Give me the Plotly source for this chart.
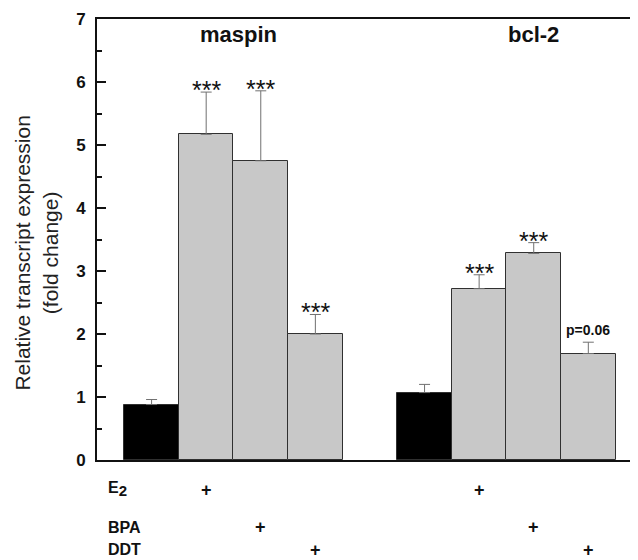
import plotly.graph_objects as go

# ---- data ----
genes = ["maspin", "bcl-2"]
treatments = ["Control", "E2", "BPA", "DDT"]
maspin_values = [0.88, 5.17, 4.75, 2.0]
maspin_err = [0.08, 0.67, 1.11, 0.31]
bcl2_values = [1.07, 2.72, 3.28, 1.69]
bcl2_err = [0.13, 0.22, 0.17, 0.18]
maspin_sig = ["", "***", "***", "***"]
bcl2_sig = ["", "***", "***", "p=0.06"]
row_labels = ["E<sub><span style='font-size:15px'>2</span></sub>", "BPA", "DDT"]
y_ticks = [0, 1, 2, 3, 4, 5, 6, 7]

FONT = "Liberation Sans, Arial, sans-serif"
BAR_COLORS = ["#000000", "#c8c8c8", "#c8c8c8", "#c8c8c8"]

# bar positions: group 1 at 0..3, group 2 at 5..8 (one-bar gap)
pos1 = list(range(len(treatments)))
pos2 = [p + len(treatments) + 1 for p in pos1]

fig = go.Figure()
for pos, vals, errs in [(pos1, maspin_values, maspin_err), (pos2, bcl2_values, bcl2_err)]:
    fig.add_trace(go.Bar(
        x=pos, y=vals, width=1.0,
        marker=dict(color=BAR_COLORS, line=dict(color="#303030", width=1)),
        error_y=dict(type="data", array=errs, arrayminus=[0] * len(errs), symmetric=False,
                     color="#707070", thickness=1, width=5.5),
        showlegend=False, hoverinfo="skip",
    ))

annotations = []
# significance marks
for pos, vals, errs, sig in [(pos1, maspin_values, maspin_err, maspin_sig),
                             (pos2, bcl2_values, bcl2_err, bcl2_sig)]:
    for p, v, e, s in zip(pos, vals, errs, sig):
        if not s:
            continue
        star = s.startswith("*")
        annotations.append(dict(
            x=p, y=v + e, xref="x", yref="y", text=s if star else "<b>%s</b>" % s,
            showarrow=False, yanchor="middle", xanchor="center",
            yshift=2 if star else 12,
            font=dict(family=FONT, size=25 if star else 14, color="#111")))

# group titles
for gx, g in zip([1.6, 7.0], genes):
    annotations.append(dict(x=gx, y=6.75, xref="x", yref="y", text="<b>%s</b>" % g,
                            showarrow=False, font=dict(family=FONT, size=22, color="#111")))

# treatment rows
row_y = [-0.066, -0.152, -0.204]
for i, (lab, ry) in enumerate(zip(row_labels, row_y)):
    annotations.append(dict(x=0.0166, y=ry, xref="paper", yref="paper", text="<b>%s</b>" % lab,
                            showarrow=False, xanchor="left", yanchor="middle",
                            font=dict(family=FONT, size=16, color="#111")))
    for pos in (pos1, pos2):
        annotations.append(dict(x=pos[i + 1], y=ry if i else -0.068, xref="x", yref="paper",
                                text="<b>+</b>",
                                showarrow=False, xanchor="center", yanchor="middle",
                                font=dict(family=FONT, size=18, color="#111")))

# y-axis title
annotations.append(dict(x=-0.112, y=0.469, xref="paper", yref="paper",
                        text="Relative transcript expression<br>(fold change)",
                        textangle=-90, showarrow=False, xanchor="center", yanchor="middle",
                        font=dict(family=FONT, size=21, color="#222")))

# the page adds an 8px body margin, so the figure is sized/margined to compensate
fig.update_layout(
    width=630, height=552,
    margin=dict(l=89, r=0, t=11, b=100),
    plot_bgcolor="white", paper_bgcolor="white",
    bargap=0, annotations=annotations,
    xaxis=dict(range=[-1, 8.91], showgrid=False, zeroline=False, showticklabels=False,
               ticks="", showline=True, linecolor="#111", linewidth=2, mirror=True),
    yaxis=dict(range=[0, 7], tickvals=y_ticks, showgrid=False, zeroline=False,
               ticks="inside", ticklen=9, tickwidth=2, tickcolor="#111",
               showline=True, linecolor="#111", linewidth=2,
               tickfont=dict(family=FONT, size=17, color="#111", weight="bold"),
               ticklabelstandoff=6,
               minor=dict(dtick=0.5, ticks="inside", ticklen=5, tickwidth=2, tickcolor="#111")),
)

fig.write_html("out.html")
